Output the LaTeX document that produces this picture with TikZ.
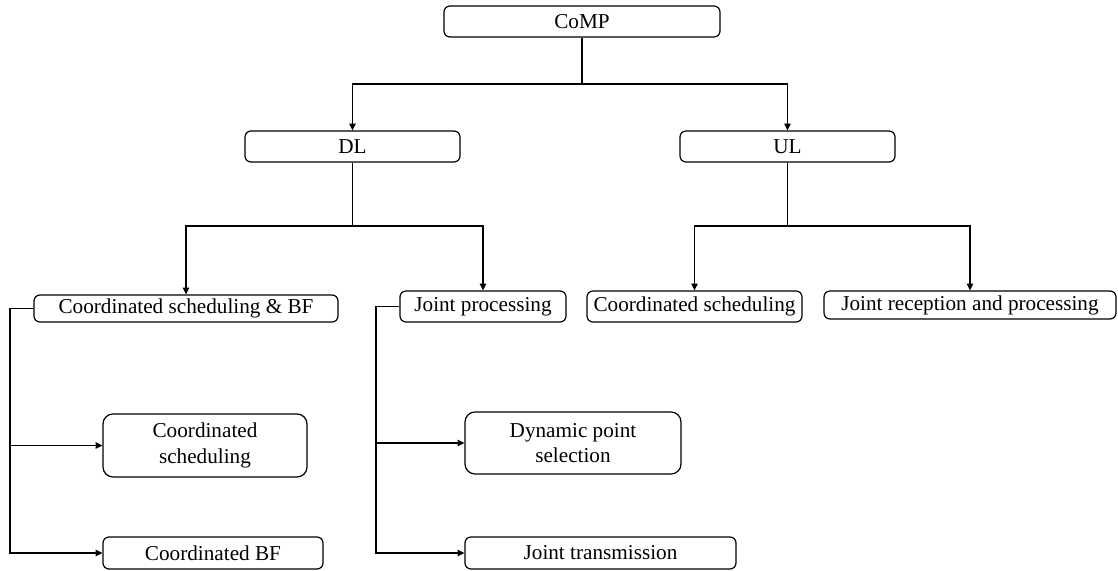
\documentclass[tikz,border=0pt]{standalone}
\usepackage{fontspec}
\setmainfont{Liberation Serif}
\usetikzlibrary{arrows.meta}
\begin{document}
\begin{tikzpicture}[x=0.5pt,y=-0.5pt,
  box/.style={draw, line width=0.6pt, rounded corners=3pt, inner sep=0pt,
    align=center, font=\fontsize{10.6}{12.6}\selectfont},
  link/.style={line width=0.6pt},
  arr/.style={link, -{Triangle[length=3.4pt,width=3.2pt]}}]
\useasboundingbox (0,0) rectangle (1118,571);

% top level
\node[box, minimum width=138pt, minimum height=15.5pt] (comp) at (582,21.5) {CoMP};

% second level
\node[box, minimum width=107.5pt, minimum height=15.5pt] (dl) at (352.5,146.5) {DL};
\node[box, minimum width=107.5pt, minimum height=15.5pt] (ul) at (787.5,146.5) {UL};

% third level
\node[box, minimum width=152pt, minimum height=13.5pt] (csbf) at (186,308.5) {Coordinated scheduling \& BF};
\node[box, minimum width=83pt, minimum height=15.5pt] (jp) at (483,306.5) {Joint processing};
\node[box, minimum width=107.5pt, minimum height=15.5pt] (ulcs) at (694.5,306.5) {Coordinated scheduling};
\node[box, minimum width=146pt, minimum height=14pt] (jrp) at (970,305) {Joint reception and processing};

% leaves
\node[box, rounded corners=5pt, minimum width=102pt, minimum height=31.5pt] (cs) at (205,445.5) {Coordinated\\scheduling};
\node[box, minimum width=110pt, minimum height=16pt] (cbf) at (213,553) {Coordinated BF};
\node[box, rounded corners=5pt, minimum width=108pt, minimum height=31pt] (dps) at (573,443) {Dynamic point\\selection};
\node[box, minimum width=135.5pt, minimum height=16pt] (jt) at (600.5,553) {Joint transmission};

% branch points
\coordinate (b0) at (582,84);
\coordinate (b1) at (352.5,226);
\coordinate (b2) at (787.5,226);
\coordinate (t1) at (10,553);
\coordinate (t2) at (376,553);

% CoMP -> DL / UL
\draw[link] (comp.south) -- (b0);
\draw[arr] (b0) -| (dl.north);
\draw[arr] (b0) -| (ul.north);

% DL -> its two schemes
\draw[link] (dl.south) -- (b1);
\draw[arr] (b1) -| (csbf.north);
\draw[arr] (b1) -| (jp.north);

% UL -> its two schemes
\draw[link] (ul.south) -- (b2);
\draw[arr] (b2) -| (ulcs.north);
\draw[arr] (b2) -| (jrp.north);

% coordinated scheduling & BF subtree
\draw[arr] (csbf.west) -| (t1) -- (cbf.west);
\draw[arr] (t1 |- cs.west) -- (cs.west);

% joint processing subtree
\draw[arr] (jp.west) -| (t2) -- (jt.west);
\draw[arr] (t2 |- dps.west) -- (dps.west);
\end{tikzpicture}
\end{document}
